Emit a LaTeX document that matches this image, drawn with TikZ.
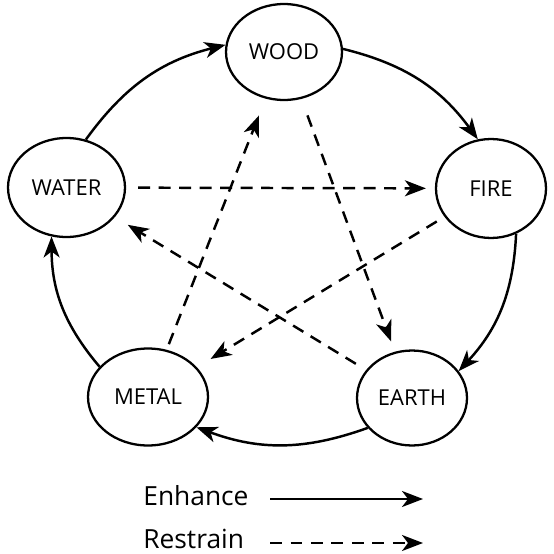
\documentclass[tikz,border=0pt]{standalone}
\usepackage{fontspec}
\setmainfont{Open Sans}
\usetikzlibrary{arrows.meta,positioning,shapes.geometric}

\begin{document}
\begin{tikzpicture}[x=0.02cm,y=-0.02cm,>={Stealth[length=0.42cm,width=0.32cm,inset=0.12cm]},
  phase/.style={ellipse,draw,line width=1.3pt,inner sep=0pt,font=\fontsize{12.5}{15}\selectfont},
  enh/.style={->,line width=1.4pt},
  res/.style={->,line width=1.4pt,dash pattern=on 0.24cm off 0.17cm},
  keytxt/.style={anchor=base west,inner sep=0pt,font=\fontsize{15}{18}\selectfont}]
  \useasboundingbox (0,0) rectangle (554,554);
  % the five phases
  \node[phase,minimum width=2.32cm,minimum height=1.92cm] (wood) at (284,52) {WOOD};
  \node[phase,minimum width=2.34cm,minimum height=1.98cm] (water) at (66.5,187.5) {WATER};
  \node[phase,minimum width=2.20cm,minimum height=1.98cm] (fire) at (491,188.5) {FIRE};
  \node[phase,minimum width=2.40cm,minimum height=1.94cm] (metal) at (148,397) {METAL};
  \node[phase,minimum width=2.20cm,minimum height=1.90cm] (earth) at (412,398) {EARTH};

  % --- enhance cycle ---
  \draw[enh] (water.68) to[bend left=20] (wood.173);
  \draw[enh] (wood.3) to[bend left=20] (fire.105);
  \draw[enh] (fire.-61) to[bend left=20] (earth.30);
  \draw[enh] (earth.214) to[bend left=20] (metal.-32);
  \draw[enh] (metal.148) to[bend left=20] (water.253);

  % --- restrain star ---
  \draw[res,shorten <=0.24cm,shorten >=0.18cm] (water) -- (fire);
  \draw[res,shorten <=0.35cm,shorten >=0.22cm] (wood) -- (earth);
  \draw[res,shorten <=0.24cm,shorten >=0.30cm] (earth) -- (water);
  \draw[res,shorten <=0.18cm,shorten >=0.32cm] (fire) -- (metal);
  \draw[res,shorten <=0.12cm,shorten >=0.36cm] (metal) -- (wood);

  % key
  \node[keytxt] (enhtxt) at (143,505) {Enhance};
  \node[keytxt] (restxt) at (143,548) {Restrain};
  \coordinate (e1) at (270,499);
  \coordinate (e2) at (423,499);
  \coordinate (r1) at (270,543);
  \coordinate (r2) at (423,543);
  \draw[enh] (e1) -- (e2);
  \draw[res] (r1) -- (r2);
\end{tikzpicture}
\end{document}
